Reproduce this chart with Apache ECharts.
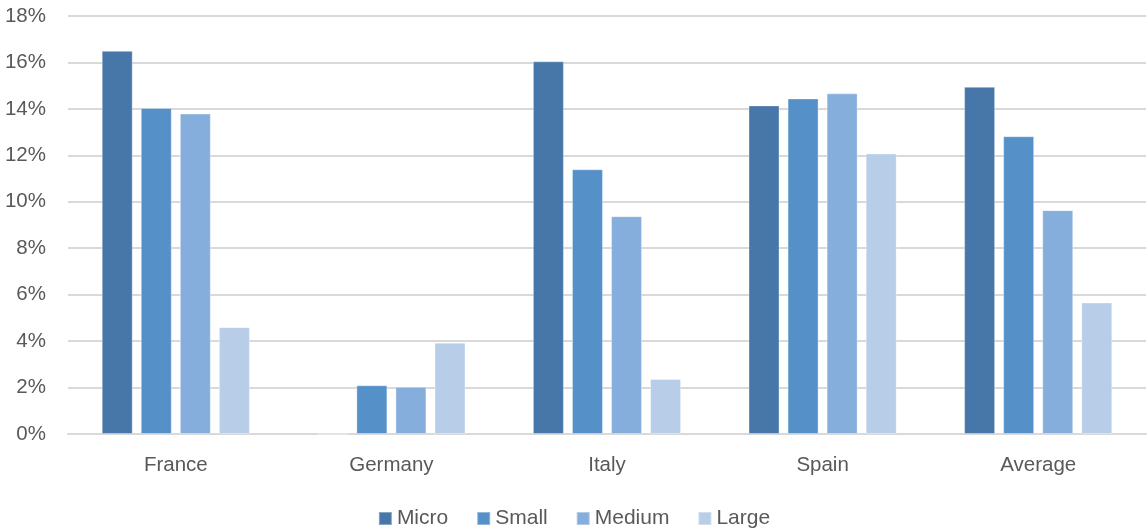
<!DOCTYPE html>
<html>
<head>
<meta charset="utf-8">
<script src="https://cdn.jsdelivr.net/npm/echarts@6/dist/echarts.min.js"></script>
<style>
  html, body { margin: 0; padding: 0; background: #fff; }
  #chart { width: 1148px; height: 532px; }
</style>
</head>
<body>
<div id="chart"></div>
<script>
var countries = ['France', 'Germany', 'Italy', 'Spain', 'Average'];
var seriesNames = ['Micro', 'Small', 'Medium', 'Large'];
// percentages
var micro = [16.5, 0, 16.05, 14.15, 14.95];
var small = [14.04, 2.1, 11.4, 14.45, 12.82];
var medium = [13.8, 2.03, 9.38, 14.67, 9.64];
var large = [4.6, 3.93, 2.37, 12.08, 5.66];
var colors = ['#4677a8', '#5591c8', '#86aedc', '#b8cde8'];

var chart = echarts.init(document.getElementById('chart'), null, { renderer: 'canvas' });
var font = 'Liberation Sans';
var values = [micro, small, medium, large];

var series = seriesNames.map(function (name, i) {
  return {
    name: name,
    type: 'bar',
    data: values[i],
    barWidth: 31,
    barGap: '26%',
    itemStyle: { color: colors[i], borderColor: 'rgba(255,255,255,0.35)', borderWidth: 1 }
  };
});

var option = {
  animation: false,
  color: colors,
  grid: { left: 68, right: 2, top: 16, bottom: 98 },
  legend: {
    data: seriesNames,
    bottom: -2,
    left: 'center',
    itemWidth: 13,
    itemHeight: 13,
    itemGap: 28,
    icon: 'rect',
    textStyle: { fontFamily: font, fontSize: 21, color: '#595959', padding: [0, 0, 0, 0] }
  },
  xAxis: {
    type: 'category',
    data: countries,
    axisLine: { lineStyle: { color: '#d9d9d9', width: 2 } },
    axisTick: { show: false },
    axisLabel: { fontFamily: font, fontSize: 20.5, color: '#595959', margin: 21 }
  },
  yAxis: {
    type: 'value',
    min: 0,
    max: 18,
    interval: 2,
    axisLine: { show: false },
    axisTick: { show: false },
    splitLine: { lineStyle: { color: '#d9d9d9', width: 2 } },
    axisLabel: {
      fontFamily: font, fontSize: 20.5, color: '#595959', margin: 22,
      formatter: function (v) { return v + '%'; }
    }
  },
  series: series
};

chart.setOption(option);
</script>
</body>
</html>
